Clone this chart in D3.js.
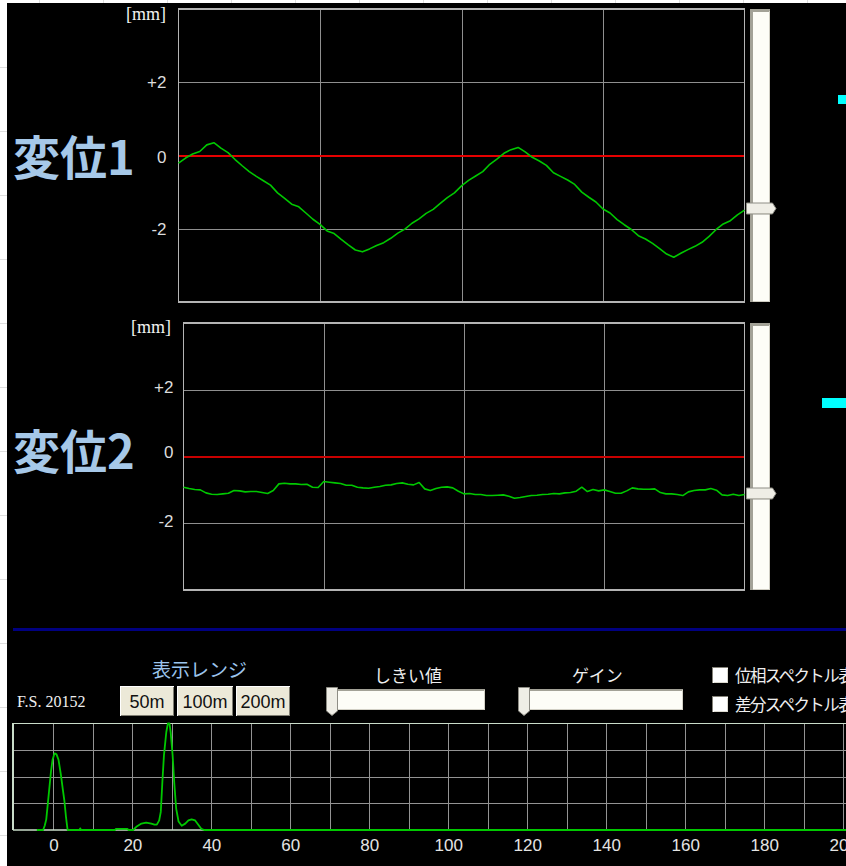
<!DOCTYPE html>
<html>
<head>
<meta charset="utf-8">
<script src="https://cdn.jsdelivr.net/npm/d3@7"></script>
<style>
  html, body { margin: 0; padding: 0; background: #fff; }
  svg { display: block; }
</style>
</head>
<body>
<svg id="view" width="846" height="866"></svg>
<script>
// ---- data -------------------------------------------------------------
// 変位1 [mm], 81 samples spread evenly over the 4 time divisions
const disp1 = [
  -0.21, -0.07, 0.04, 0.11, 0.29, 0.35, 0.20, 0.08, -0.11, -0.28,
  -0.44, -0.57, -0.69, -0.81, -1.02, -1.17, -1.33, -1.40, -1.57, -1.74,
  -1.88, -2.06, -2.13, -2.29, -2.44, -2.58, -2.63, -2.55, -2.46, -2.38,
  -2.26, -2.12, -2.01, -1.85, -1.73, -1.58, -1.47, -1.31, -1.15, -1.02,
  -0.83, -0.68, -0.56, -0.44, -0.24, -0.10, 0.06, 0.16, 0.22, 0.10,
  -0.05, -0.15, -0.27, -0.47, -0.57, -0.67, -0.79, -1.00, -1.14, -1.27,
  -1.46, -1.57, -1.75, -1.89, -2.02, -2.19, -2.28, -2.40, -2.54, -2.69,
  -2.78, -2.67, -2.57, -2.48, -2.37, -2.21, -2.02, -1.87, -1.78, -1.62,
  -1.49
];
// 変位2 [mm], 101 samples over the same span
const disp2 = [
  -0.92, -0.96, -0.99, -1.00, -1.09, -1.13, -1.14, -1.12, -1.10, -1.02,
  -1.03, -1.06, -1.05, -1.05, -1.08, -1.11, -1.02, -0.82, -0.80, -0.82,
  -0.82, -0.84, -0.83, -0.92, -0.93, -0.75, -0.77, -0.79, -0.81, -0.86,
  -0.86, -0.92, -0.94, -0.95, -0.92, -0.90, -0.86, -0.85, -0.81, -0.79,
  -0.83, -0.85, -0.78, -0.97, -1.02, -0.96, -0.92, -0.91, -0.94, -1.04,
  -1.12, -1.11, -1.14, -1.14, -1.17, -1.17, -1.16, -1.15, -1.19, -1.25,
  -1.23, -1.20, -1.17, -1.16, -1.14, -1.13, -1.11, -1.12, -1.09, -1.08,
  -1.04, -0.92, -1.05, -0.99, -1.03, -1.00, -1.05, -1.10, -1.10, -1.03,
  -0.94, -0.97, -0.98, -0.98, -0.97, -1.08, -1.12, -1.12, -1.14, -1.17,
  -1.06, -1.02, -1.00, -1.00, -0.96, -1.01, -1.15, -1.17, -1.13, -1.17,
  -1.14
];
const levelTicks = [-2, 0, 2];   // mm
const timeGrid = [1, 2, 3];      // division lines

// spectrum: frequency and relative amplitude [%]
const specFreq = [
  -4.2, -2.6, -2.2, -1.8, -1.4, -1.0, -0.6, -0.2, 0.3, 0.8,
  1.3, 1.9, 2.4, 2.8, 3.2, 3.6, 6.6, 6.8, 7.0, 15.6,
  15.8, 18.8, 19.0, 20.2, 21.0, 22.3, 23.5, 24.8, 25.6, 26.2,
  26.8, 27.2, 27.6, 28.0, 28.6, 29.0, 29.4, 29.7, 30.2, 30.6,
  31.1, 31.7, 32.5, 33.4, 34.2, 35.0, 35.9, 36.7, 37.5, 38.2,
  205
];
const specAmp = [
  0, 0, 4, 10, 25, 40, 55, 66, 72, 71,
  66, 52, 38, 27, 12, 0, 0, 1.5, 0, 0,
  1, 1, 0, 0, 3, 6, 7, 6, 5, 5,
  9, 17, 45, 70, 92, 100, 100, 92, 70, 45,
  20, 8, 4, 6, 9, 10, 9, 5, 1, 0,
  0
];
const specTicks = [0, 20, 40, 60, 80, 100, 120, 140, 160, 180, 200];
const specGrid = [0, 10, 20, 30, 40, 50, 60, 70, 80, 90, 100, 110, 120, 130, 140,
                  150, 160, 170, 180, 190, 200];
const specLevels = [25, 50, 75];
const rangeButtons = ["50m", "100m", "200m"];
const spectrumOptions = ["位相スペクトル表示", "差分スペクトル表示"];

// ---- drawing ----------------------------------------------------------
const W = 846, H = 866;
const svg = d3.select("#view");
const JP = '"Noto Sans CJK JP", sans-serif';
const SANS = '"Liberation Sans", Arial, sans-serif';
const SERIF = '"Liberation Serif", "DejaVu Serif", serif';

// worksheet cells behind the window
const sheet = svg.append("g").attr("stroke", "#dedede").attr("shape-rendering", "crispEdges");
sheet.selectAll(".row").data(d3.range(67, H, 64)).join("line")
  .attr("x1", 0).attr("x2", 7).attr("y1", d => d).attr("y2", d => d);
sheet.selectAll(".col").data(d3.range(39, W, 64)).join("line")
  .attr("y1", 0).attr("y2", 3).attr("x1", d => d).attr("x2", d => d);

svg.append("rect").attr("x", 7).attr("y", 3).attr("width", W - 7).attr("height", H - 3)
  .attr("fill", "#000");

function verticalSlider(x0, y0, y1, cy) {
  const g = svg.append("g").attr("shape-rendering", "crispEdges");
  g.append("rect").attr("x", x0).attr("y", y0).attr("width", 20).attr("height", y1 - y0)
    .attr("fill", "#fdfdf7");
  g.append("path").attr("d", `M${x0 + 1.5},${y1} V${y0 + 1} H${x0 + 20}`)
    .attr("fill", "none").attr("stroke", "#a3a297").attr("stroke-width", 3);
  g.append("path").attr("d", `M${x0 + 19.5},${y0 + 2} V${y1 - 0.5} H${x0 + 3}`)
    .attr("fill", "none").attr("stroke", "#cfcdc2").attr("stroke-width", 1);
  const t = svg.append("g");
  t.append("path")
    .attr("d", `M${x0 - 3.5},${cy - 5.5} H${x0 + 22.5} L${x0 + 26},${cy} L${x0 + 22.5},${cy + 5.5} H${x0 - 3.5} Z`)
    .attr("fill", "#efeee6").attr("stroke", "#8e8d85").attr("stroke-width", 1);
  t.append("line").attr("x1", x0 - 3).attr("x2", x0 + 22).attr("y1", cy + 5).attr("y2", cy + 5)
    .attr("stroke", "#b9b8ae");
}

function tracePanel(o) {
  const x = d3.scaleLinear().domain([0, 4]).range([o.l, o.r]);
  const y = d3.scaleLinear().domain([-4, 4]).range([o.b, o.t]);
  const g = svg.append("g");

  g.append("g").attr("transform", `translate(0,${o.b})`)
    .call(d3.axisBottom(x).tickValues(timeGrid).tickSize(-(o.b - o.t)).tickFormat(""))
    .call(a => a.select(".domain").remove())
    .call(a => a.selectAll("line").attr("stroke", "#8f8f8f").attr("shape-rendering", "crispEdges"));

  g.append("g").attr("transform", `translate(${o.l},0)`)
    .call(d3.axisLeft(y).tickValues(levelTicks).tickSize(-(o.r - o.l)).tickPadding(o.pad)
      .tickFormat(d => d > 0 ? `+${d}` : `${d}`))
    .call(a => a.select(".domain").remove())
    .call(a => a.selectAll("line")
      .attr("stroke", d => d === 0 ? o.zero : "#8f8f8f")
      .attr("stroke-width", d => d === 0 ? o.zw : 1)
      .attr("shape-rendering", "crispEdges"))
    .call(a => a.selectAll("text")
      .attr("fill", "#dcdcdc").attr("font-size", 17).attr("font-family", SANS)
      .attr("dy", d => (d === 0 ? o.dy0 : o.dy) + "px").attr("dominant-baseline", "central"));

  g.append("rect").attr("x", o.l).attr("y", o.t).attr("width", o.r - o.l).attr("height", o.b - o.t)
    .attr("fill", "none").attr("stroke", "#b4b4b4").attr("stroke-width", 1.3)
    .attr("shape-rendering", "crispEdges");

  const step = 4 / (o.data.length - 1);
  g.append("path").datum(o.data)
    .attr("d", d3.line().x((d, i) => x(i * step)).y(d => y(d)))
    .attr("fill", "none").attr("stroke", "#00c800").attr("stroke-width", 1.6)
    .attr("stroke-linejoin", "round");

  g.append("text").attr("x", o.unitX).attr("y", o.unitY).attr("text-anchor", "end")
    .attr("fill", "#f2f2f2").attr("font-size", 18).attr("font-family", SERIF).text("[mm]");

  g.append("text").attr("x", 13).attr("y", o.titleY)
    .attr("fill", "#a6c8e8").attr("font-size", 47).attr("font-weight", 700)
    .attr("font-family", JP).text(o.title);

  // the slider thumb follows the latest sample
  verticalSlider(750, o.t, o.b, Math.round(y(o.data[o.data.length - 1])) - 1.5);
}

tracePanel({ l: 178.5, r: 744.5, t: 9, b: 302, data: disp1, zero: "#e60000", zw: 1.4,
  pad: 12, dy: 0, dy0: 1, unitX: 166, unitY: 20, title: "変位1", titleY: 175 });
tracePanel({ l: 183.5, r: 744.5, t: 323, b: 590, data: disp2, zero: "#c80000", zw: 2,
  pad: 10, dy: -2.5, dy0: -5, unitX: 171, unitY: 333, title: "変位2", titleY: 469 });

// level markers at the right edge
svg.append("rect").attr("x", 838).attr("y", 95).attr("width", 10).attr("height", 9).attr("fill", "#00ffff");
svg.append("rect").attr("x", 822).attr("y", 398).attr("width", 26).attr("height", 10).attr("fill", "#00ffff");

// divider
svg.append("rect").attr("x", 13).attr("y", 628).attr("width", W - 13).attr("height", 3).attr("fill", "#000080");

// ---- control strip ----
svg.append("text").attr("x", 152).attr("y", 677).attr("fill", "#9cc4ec").attr("font-size", 19)
  .attr("font-family", JP).text("表示レンジ");
svg.append("text").attr("x", 17).attr("y", 707).attr("fill", "#f0f0f0").attr("font-size", 16)
  .attr("font-family", SERIF).text("F.S. 20152");

const btnX = [120, 177, 236], btnW = [54, 56, 54];
const btn = svg.selectAll(".btn").data(rangeButtons).join("g")
  .attr("transform", (d, i) => `translate(${btnX[i]},686)`);
btn.append("rect").attr("width", (d, i) => btnW[i]).attr("height", 30).attr("fill", "#ece9d8");
btn.append("path").attr("d", (d, i) => `M0.5,29.5 V0.5 H${btnW[i] - 0.5}`)
  .attr("fill", "none").attr("stroke", "#ffffff").attr("shape-rendering", "crispEdges");
btn.append("path").attr("d", (d, i) => `M0.5,29.5 H${btnW[i] - 0.5} V0.5`)
  .attr("fill", "none").attr("stroke", "#7f7d72").attr("shape-rendering", "crispEdges");
btn.append("text").attr("x", (d, i) => btnW[i] / 2).attr("y", 22).attr("text-anchor", "middle")
  .attr("fill", "#111").attr("font-size", 18).attr("font-family", SANS).text(d => d);

function horizontalSlider(label, labelX, x0, x1) {
  svg.append("text").attr("x", labelX).attr("y", 682).attr("fill", "#eeeeee").attr("font-size", 17)
    .attr("font-family", JP).text(label);
  const g = svg.append("g").attr("shape-rendering", "crispEdges");
  g.append("rect").attr("x", x0).attr("y", 689).attr("width", x1 - x0).attr("height", 21).attr("fill", "#fdfdf7");
  g.append("path").attr("d", `M${x0},${710} V${689.5} H${x1}`).attr("fill", "none")
    .attr("stroke", "#a3a297").attr("stroke-width", 2);
  g.append("path").attr("d", `M${x0 + 2},${709.5} H${x1 - 0.5} V${690}`).attr("fill", "none")
    .attr("stroke", "#d2d0c5");
  svg.append("path")
    .attr("d", `M${x0 - 6.5},687.5 H${x0 + 4.5} V711 L${x0 - 1},715.5 L${x0 - 6.5},711 Z`)
    .attr("fill", "#efeee6").attr("stroke", "#8e8d85");
}
horizontalSlider("しきい値", 374, 333, 485);
horizontalSlider("ゲイン", 572, 525, 683);

const opt = svg.selectAll(".opt").data(spectrumOptions).join("g")
  .attr("transform", (d, i) => `translate(712,${667 + i * 29})`);
opt.append("rect").attr("width", 16).attr("height", 16).attr("fill", "#ffffff");
opt.append("path").attr("d", "M0.5,16 V0.5 H16").attr("fill", "none").attr("stroke", "#848278")
  .attr("stroke-width", 1.5).attr("shape-rendering", "crispEdges");
opt.append("path").attr("d", "M2,15.5 H15.5 V2").attr("fill", "none").attr("stroke", "#dcdad0")
  .attr("shape-rendering", "crispEdges");
opt.append("text").attr("x", 23).attr("y", 15).attr("fill", "#eeeeee").attr("font-size", 16.5)
  .attr("font-family", JP).attr("letter-spacing", -1.6).text(d => d);

// ---- spectrum ----
const sx = d3.scaleLinear().domain([-10.3, 203]).range([12.7, 855]);
const sy = d3.scaleLinear().domain([0, 100]).range([830, 723.5]);
const sp = svg.append("g");

sp.append("g").attr("transform", "translate(0,830)")
  .call(d3.axisBottom(sx).tickValues(specGrid).tickSize(-(830 - 723.5)).tickFormat(""))
  .call(a => a.select(".domain").remove())
  .call(a => a.selectAll("line").attr("stroke", "#939393").attr("shape-rendering", "crispEdges"));
sp.append("g").attr("transform", "translate(12.7,0)")
  .call(d3.axisLeft(sy).tickValues(specLevels).tickSize(-(W - 12.7)).tickFormat(""))
  .call(a => a.select(".domain").remove())
  .call(a => a.selectAll("line").attr("stroke", "#939393").attr("shape-rendering", "crispEdges"));
sp.append("path").attr("d", `M13,830 V723.5 H${W}`).attr("fill", "none")
  .attr("stroke", "#c9dcc9").attr("stroke-width", 1.4).attr("shape-rendering", "crispEdges");
sp.append("line").attr("x1", 13).attr("x2", W).attr("y1", 830).attr("y2", 830)
  .attr("stroke", "#c9dcc9").attr("stroke-width", 1.4);

sp.append("path").datum(d3.zip(specFreq, specAmp))
  .attr("d", d3.line().x(d => sx(d[0])).y(d => sy(d[1])))
  .attr("fill", "none").attr("stroke", "#00c800").attr("stroke-width", 1.8)
  .attr("stroke-linejoin", "round");

sp.append("g").attr("transform", "translate(0,838)")
  .call(d3.axisBottom(sx).tickValues(specTicks).tickSize(0).tickPadding(0).tickFormat(d => `${d}`))
  .call(a => a.select(".domain").remove())
  .call(a => a.selectAll("text").attr("fill", "#e4e4e4").attr("font-size", 17)
    .attr("font-family", SANS).attr("dy", "0.75em"));
</script>
</body>
</html>
